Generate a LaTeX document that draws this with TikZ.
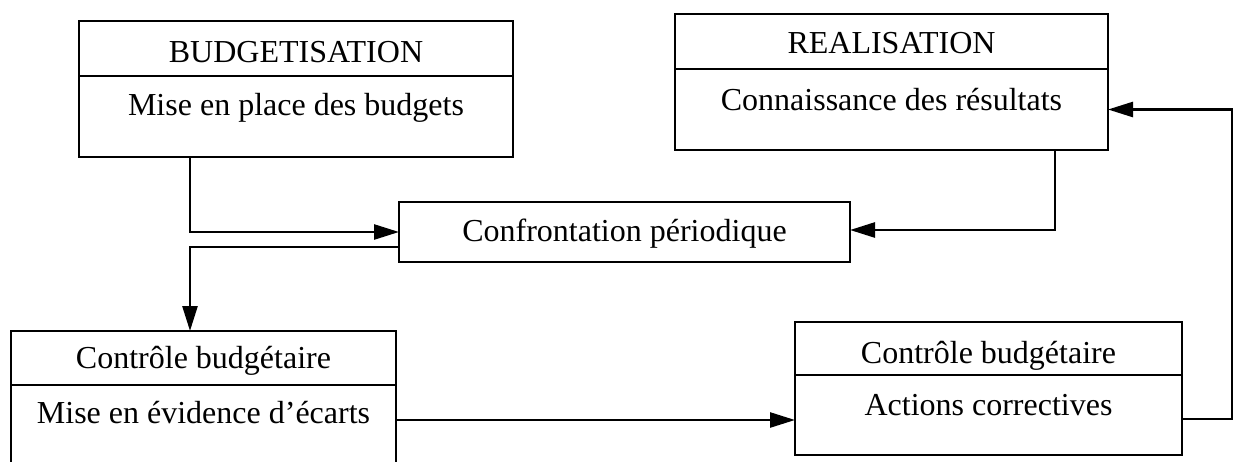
\documentclass[tikz,border=0pt]{standalone}
\usepackage{fontspec}
\setmainfont{Liberation Serif}
\usetikzlibrary{arrows.meta}
\begin{document}
\begin{tikzpicture}[x=1pt,y=-1pt,
  panel/.style={draw, line width=2.7pt, rectangle, inner sep=0pt, outer sep=0pt, anchor=north west},
  lbl/.style={anchor=base, inner sep=0pt, font=\fontsize{32}{38}\selectfont},
  arr/.style={line width=2.6pt, -{Triangle[length=25pt,width=15pt]}}]
\clip (0,0) rectangle (1235,461);

% BUDGETISATION
\node[panel, minimum width=434pt, minimum height=55pt] (bh) at (79,21) {};
\node[panel, minimum width=434pt, minimum height=81pt] (bb) at (79,76) {};
\node[lbl] (bht) at (296,62) {BUDGETISATION};
\node[lbl] (bbt) at (296,115) {Mise en place des budgets};

% REALISATION
\node[panel, minimum width=433pt, minimum height=55pt] (rh) at (675,14) {};
\node[panel, minimum width=433pt, minimum height=81pt] (rb) at (675,69) {};
\node[lbl] (rht) at (891.5,53) {REALISATION};
\node[lbl] (rbt) at (891.5,110) {Connaissance des résultats};

% Confrontation
\node[panel, minimum width=451pt, minimum height=60pt] (conf) at (399,202) {};
\node[lbl] (conft) at (624.5,241) {Confrontation périodique};

% Contrôle budgétaire (écarts)
\node[panel, minimum width=385pt, minimum height=54pt] (ch) at (11,331) {};
\node[panel, minimum width=385pt, minimum height=90pt] (cb) at (11,385) {};
\node[lbl] (cht) at (203.5,368) {Contrôle budgétaire};
\node[lbl] (cbt) at (203.5,423) {Mise en évidence d’écarts};

% Contrôle budgétaire (actions)
\node[panel, minimum width=387pt, minimum height=53pt] (ah) at (795,322) {};
\node[panel, minimum width=387pt, minimum height=80pt] (ab) at (795,375) {};
\node[lbl] (aht) at (988.5,363) {Contrôle budgétaire};
\node[lbl] (abt) at (988.5,415) {Actions correctives};

% Connectors
\draw[arr] ([xshift=111pt]bb.south west) |- (conf.west);
\draw[arr] ([xshift=380pt]rb.south west) |- ([yshift=2pt]conf.east);
\draw[arr] ([yshift=-15pt]conf.west) -| ([xshift=-13.5pt]ch.north);
\draw[arr] ([yshift=10pt]cb.east) -- ([yshift=10pt]cb.east -| ab.west);
\draw[arr] ([yshift=-4pt]ab.east) -- ++(50,0) |- (rb.east);
\end{tikzpicture}
\end{document}
